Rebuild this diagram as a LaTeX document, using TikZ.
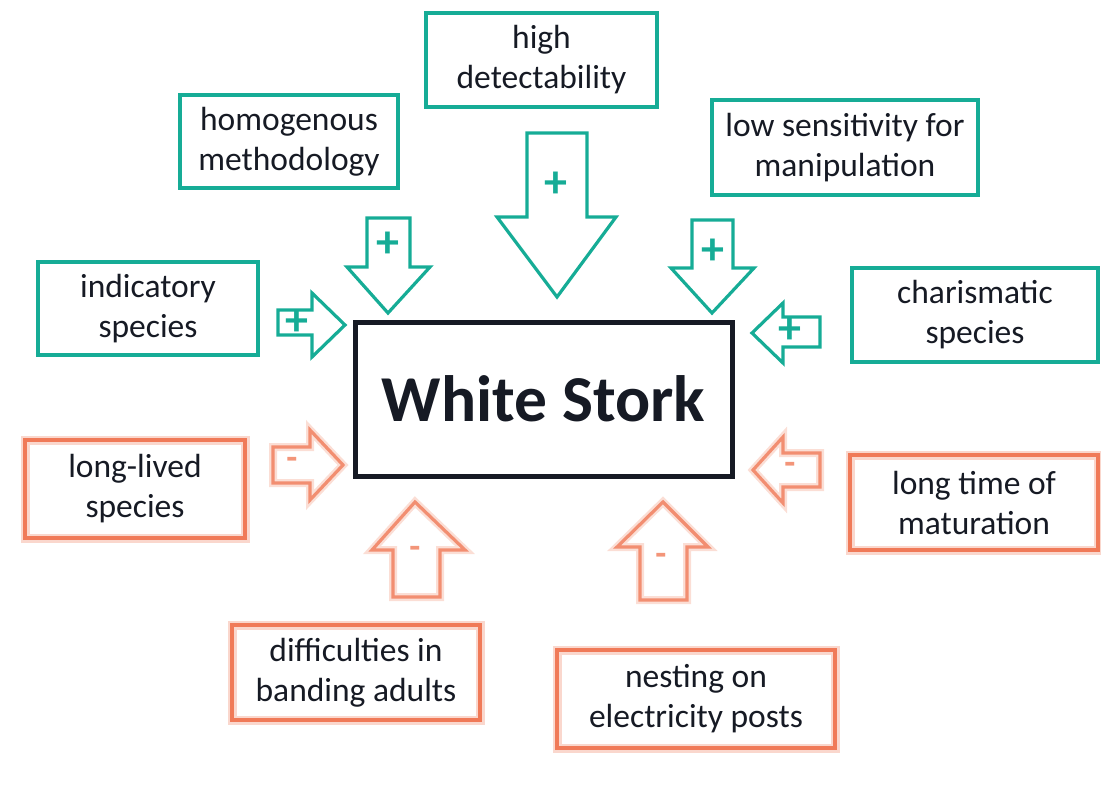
\documentclass[tikz,border=0pt]{standalone}
\usepackage{fontspec}
\setmainfont{Carlito}

\definecolor{plusgreen}{RGB}{22,172,150}
\definecolor{minusred}{RGB}{240,122,88}
\definecolor{inktext}{RGB}{22,26,36}

\begin{document}
\begin{tikzpicture}[x=1pt, y=-1pt,
    every node/.style={align=center, text=inktext, inner sep=0pt, font=\fontsize{33.5}{40}\selectfont},
    plusbox/.style={draw=plusgreen, line width=3.2pt},
    minusbox/.style={draw=minusred, line width=3.2pt, preaction={draw=minusred!30, line width=9pt}},
    plusarrow/.style={draw=plusgreen, line width=3.2pt, line join=miter},
    minusarrow/.style={draw=minusred!85, line width=3.2pt, line join=miter, preaction={draw=minusred!25, line width=8pt}},
    plussign/.style={text=plusgreen, font=\bfseries\fontsize{46}{46}\selectfont},
    minussign/.style={text=minusred!80, font=\bfseries\fontsize{36}{36}\selectfont}]
    \useasboundingbox (0,0) rectangle (1101,789);

    % Centro
    \node (stork) at (543.5,399) [draw=inktext, line width=5pt, minimum width=377pt, minimum height=154pt,
        font=\bfseries\fontsize{65.5}{70}\selectfont] {White Stork};

    % Fattori positivi
    \node (homog) at (289,141.5) [plusbox, minimum width=218pt, minimum height=93pt] {homogenous\\methodology};
    \node (detect) at (541.5,60) [plusbox, minimum width=231pt, minimum height=94pt] {high\\detectability};
    \node (sensit) at (845,147.5) [plusbox, minimum width=266pt, minimum height=95pt] {low sensitivity for\\manipulation};
    \node (indic) at (148,308.5) [plusbox, minimum width=220pt, minimum height=93pt] {indicatory\\species};
    \node (charis) at (975,315) [plusbox, minimum width=246pt, minimum height=94pt] {charismatic\\species};

    % Fattori negativi
    \node (longlived) at (135,489) [minusbox, minimum width=220pt, minimum height=98pt] {long-lived\\species};
    \node (matur) at (974,502.5) [minusbox, minimum width=248pt, minimum height=95pt] {long time of\\maturation};
    \node (banding) at (356,672.5) [minusbox, minimum width=248pt, minimum height=95pt] {difficulties in\\banding adults};
    \node (posts) at (696,699) [minusbox, minimum width=278pt, minimum height=98pt] {nesting on\\electricity posts};

    % Frecce verdi
    \draw[plusarrow] (367,218) -- (410,218) -- (410,267) -- (430,267) -- (388,313) -- (347,267) -- (367,267) -- cycle;
    \draw[plusarrow] (527,133) -- (587,133) -- (587,217) -- (616,217) -- (557,297) -- (497,217) -- (527,217) -- cycle;
    \draw[plusarrow] (692,220) -- (733,220) -- (733,268) -- (754,268) -- (712,313) -- (671,268) -- (692,268) -- cycle;
    \draw[plusarrow] (278,310) -- (312,310) -- (312,293) -- (345,325) -- (312,357) -- (312,335) -- (278,335) -- cycle;
    \draw[plusarrow] (820,317) -- (783,317) -- (783,303) -- (752,333) -- (783,363) -- (783,347) -- (820,347) -- cycle;
    \node (p1) at (388,245) [plussign] {+};
    \node (p2) at (556,185) [plussign] {+};
    \node (p3) at (713,252) [plussign] {+};
    \node (p4) at (297,323) [plussign] {+};
    \node (p5) at (790,331) [plussign] {+};

    % Frecce arancioni
    \draw[minusarrow] (273,447) -- (310,447) -- (310,430) -- (343,465) -- (310,500) -- (310,483) -- (273,483) -- cycle;
    \draw[minusarrow] (820,453) -- (783,453) -- (783,437) -- (753,470) -- (783,503) -- (783,487) -- (820,487) -- cycle;
    \draw[minusarrow] (393,597) -- (393,550) -- (372,550) -- (415,502) -- (465,550) -- (440,550) -- (440,597) -- cycle;
    \draw[minusarrow] (640,600) -- (640,547) -- (617,547) -- (663,502) -- (708,547) -- (687,547) -- (687,600) -- cycle;
    \node (m1) at (292,463) [minussign] {-};
    \node (m2) at (790,468) [minussign] {-};
    \node (m3) at (415,552) [minussign] {-};
    \node (m4) at (661,559) [minussign] {-};
\end{tikzpicture}
\end{document}
